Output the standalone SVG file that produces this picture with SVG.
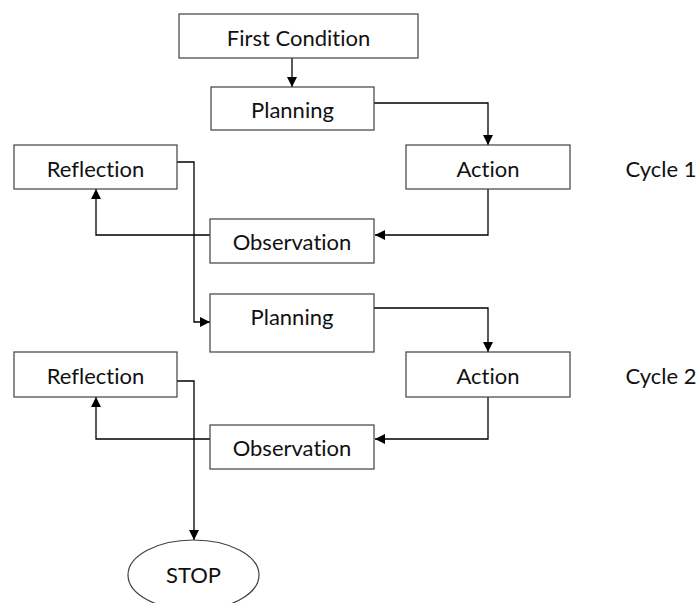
<svg xmlns="http://www.w3.org/2000/svg" width="699" height="603" viewBox="0 0 699 603">
<style>
.box{fill:#fff;stroke:#404040;stroke-width:1.2}
.t{font-family:Lato,"Liberation Sans",sans-serif;font-size:22px;fill:#111;text-anchor:middle;font-variant-ligatures:none;font-feature-settings:"liga" 0,"clig" 0}
.c{fill:none;stroke:#000;stroke-width:1.3}
</style>
<defs>
<marker id="ah" viewBox="0 0 10 10" refX="10" refY="5" markerWidth="10" markerHeight="10" markerUnits="userSpaceOnUse" orient="auto">
<path d="M0,0 L10,5 L0,10 z" fill="#000"/>
</marker>
</defs>
<rect width="699" height="603" fill="#fff"/>
<g id="connectors">
<path class="c" d="M292,58 V87" marker-end="url(#ah)"/>
<path class="c" d="M374,103 H488 V145" marker-end="url(#ah)"/>
<path class="c" d="M488,189 V235 H375" marker-end="url(#ah)"/>
<path class="c" d="M210,235 H96 V189" marker-end="url(#ah)"/>
<path class="c" d="M177,162 H194 V322 H210" marker-end="url(#ah)"/>
<path class="c" d="M374,308 H488 V352" marker-end="url(#ah)"/>
<path class="c" d="M488,397 V439 H375" marker-end="url(#ah)"/>
<path class="c" d="M210,439 H96 V397" marker-end="url(#ah)"/>
<path class="c" d="M177,381 H194 V540" marker-end="url(#ah)"/>
</g>
<g id="first-condition"><rect class="box" x="179" y="14" width="239" height="44"/><text class="t" x="298.5" y="46">First Condition</text></g>
<g id="planning-1"><rect class="box" x="211" y="87" width="163" height="43"/><text class="t" x="292.5" y="118">Planning</text></g>
<g id="action-1"><rect class="box" x="406" y="145" width="164" height="44"/><text class="t" x="488" y="176.5">Action</text></g>
<g id="cycle-1"><text class="t" x="661" y="176.5">Cycle 1</text></g>
<g id="observation-1"><rect class="box" x="210" y="219" width="164" height="44"/><text class="t" x="292" y="250">Observation</text></g>
<g id="reflection-1"><rect class="box" x="14" y="145" width="163" height="44"/><text class="t" x="95.5" y="176.5">Reflection</text></g>
<g id="planning-2"><rect class="box" x="210" y="294" width="164" height="58"/><text class="t" x="292" y="325">Planning</text></g>
<g id="action-2"><rect class="box" x="406" y="352" width="164" height="45"/><text class="t" x="488" y="383.5">Action</text></g>
<g id="cycle-2"><text class="t" x="661" y="383.5">Cycle 2</text></g>
<g id="reflection-2"><rect class="box" x="14" y="352" width="163" height="45"/><text class="t" x="95.5" y="383.5">Reflection</text></g>
<g id="observation-2"><rect class="box" x="210" y="425" width="164" height="44"/><text class="t" x="292" y="456">Observation</text></g>
<g id="stop"><ellipse class="box" cx="193.5" cy="575" rx="65.5" ry="35"/><text class="t" x="193.5" y="583">STOP</text></g>
</svg>
